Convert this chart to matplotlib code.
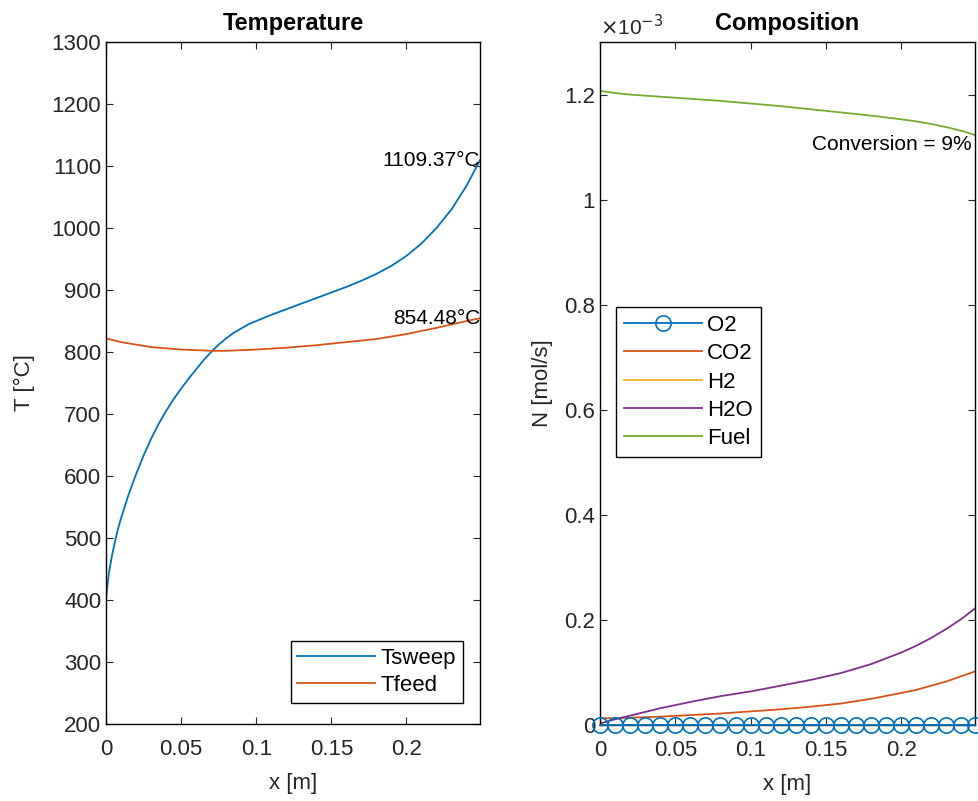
import matplotlib
matplotlib.use("Agg")
import matplotlib.pyplot as plt
from matplotlib.ticker import FuncFormatter
import numpy as np

plt.rcParams['font.family'] = ['Liberation Sans', 'DejaVu Sans']

# temperature profiles along the reactor
x_t = [0, 0.001, 0.002, 0.004, 0.006, 0.008, 0.01, 0.015, 0.02, 0.025,
       0.03, 0.035, 0.04, 0.045, 0.05, 0.055, 0.06, 0.065, 0.07, 0.075,
       0.08, 0.085, 0.09, 0.095, 0.10, 0.11, 0.12, 0.13, 0.14, 0.15,
       0.16, 0.17, 0.18, 0.19, 0.20, 0.21, 0.22, 0.23, 0.24, 0.249]
t_sweep = [400, 425, 445, 472, 495, 515, 532, 570, 603, 633,
           660, 684, 705, 724, 741, 757, 772, 787, 800, 812,
           822, 831, 838, 845, 850, 860, 869, 878, 887, 896,
           905, 915, 926, 939, 955, 975, 1000, 1030, 1068, 1109.37]
x_f = [0, 0.01, 0.02, 0.03, 0.04, 0.05, 0.06, 0.07, 0.08, 0.09, 0.10,
       0.12, 0.14, 0.16, 0.18, 0.20, 0.22, 0.24, 0.249]
t_feed = [822, 816, 812, 808, 806, 804, 803, 802, 802, 803, 804,
          807, 811, 816, 821, 829, 839, 850, 854.48]

# molar flows [mol/s], in units of 1e-3
x_c = [0, 0.01, 0.02, 0.04, 0.06, 0.08, 0.10, 0.12, 0.14, 0.16, 0.18,
       0.20, 0.21, 0.22, 0.23, 0.24, 0.249]
n_fuel = [1.207, 1.203, 1.200, 1.196, 1.192, 1.188, 1.183, 1.178, 1.172,
          1.166, 1.160, 1.153, 1.149, 1.144, 1.138, 1.131, 1.123]
n_h2o = [0.003, 0.011, 0.018, 0.032, 0.044, 0.055, 0.064, 0.075, 0.086,
         0.099, 0.116, 0.138, 0.151, 0.166, 0.183, 0.202, 0.222]
n_co2 = [0.013, 0.013, 0.014, 0.016, 0.019, 0.022, 0.026, 0.030, 0.035,
         0.041, 0.050, 0.061, 0.067, 0.075, 0.083, 0.093, 0.102]
n_h2 = [0.0] * len(x_c)
x_o2 = [0, 0.01, 0.02, 0.03, 0.04, 0.05, 0.06, 0.07, 0.08, 0.09, 0.10,
        0.11, 0.12, 0.13, 0.14, 0.15, 0.16, 0.17, 0.18, 0.19, 0.20,
        0.21, 0.22, 0.23, 0.24, 0.249]
n_o2 = [0.0] * len(x_o2)

L = 0.249
fs = 16
tick_col = '#262626'
blue, orange, yellow, purple, green = '#0072BD', '#D95319', '#EDB120', '#7E2F8E', '#77AC30'

fig = plt.figure(figsize=(9.79, 8.01), dpi=100)
ax1 = fig.add_axes([0.1083, 0.0961, 0.382, 0.8514])
ax2 = fig.add_axes([0.6129, 0.0948, 0.383, 0.8527])


def style(ax):
    ax.tick_params(direction='in', top=True, right=True, length=5,
                   labelsize=fs, colors=tick_col, width=0.8)
    ax.tick_params(axis='x', pad=11)
    for s in ax.spines.values():
        s.set_color('black')
        s.set_linewidth(1.0)
    ax.set_xlim(0, L)
    ax.set_xticks([0, 0.05, 0.1, 0.15, 0.2])
    ax.xaxis.set_major_formatter(FuncFormatter(lambda v, p: '%g' % v))
    ax.set_xlabel('x [m]', fontsize=fs, color=tick_col, labelpad=9)


# left: temperature
ax1.plot(x_t, t_sweep, color=blue, lw=1.3, label='Tsweep')
ax1.plot(x_f, t_feed, color=orange, lw=1.3, label='Tfeed')
ax1.set_ylim(200, 1300)
ax1.set_yticks(range(200, 1301, 100))
style(ax1)
ax1.set_ylabel('T [°C]', fontsize=fs, color=tick_col, labelpad=12)
ax1.set_title('Temperature', fontsize=fs + 1, fontweight='bold', pad=9)
ax1.text(L, t_sweep[-1], '%.2f°C' % t_sweep[-1], ha='right', va='center',
         fontsize=fs - 1)
ax1.text(L, t_feed[-1], '%.2f°C' % t_feed[-1], ha='right', va='center',
         fontsize=fs - 1)
leg1 = ax1.legend(loc='lower right', bbox_to_anchor=(0.9545, 0.031),
                  borderaxespad=0, fontsize=fs, handlelength=3.5,
                  handletextpad=0.25, labelspacing=0.3, borderpad=0.3,
                  fancybox=False, edgecolor='black', framealpha=1)
leg1.get_frame().set_linewidth(1.0)

# right: composition
sc = 1e-3
ax2.plot(x_o2, np.array(n_o2) * sc, color=blue, lw=1.3, marker='o',
         ms=11, mfc='none', mew=1.2, label='O2', clip_on=False, zorder=5)
ax2.plot(x_c, np.array(n_co2) * sc, color=orange, lw=1.3, label='CO2')
ax2.plot(x_c, np.array(n_h2) * sc, color=yellow, lw=1.3, label='H2')
ax2.plot(x_c, np.array(n_h2o) * sc, color=purple, lw=1.3, label='H2O')
ax2.plot(x_c, np.array(n_fuel) * sc, color=green, lw=1.3, label='Fuel')
ax2.set_ylim(0, 1.3e-3)
ax2.set_yticks(np.array([0, 0.2, 0.4, 0.6, 0.8, 1.0, 1.2]) * sc)
style(ax2)
ax2.yaxis.set_major_formatter(FuncFormatter(lambda v, p: '%g' % round(v / sc, 3)))
ax2.set_ylabel('N [mol/s]', fontsize=fs, color=tick_col, labelpad=8)
ax2.set_title('Composition', fontsize=fs + 1, fontweight='bold', pad=9)
ax2.text(0.0, 1.004, r'$\times$10$^{-3}$', transform=ax2.transAxes,
         ha='left', va='bottom', fontsize=fs - 1, color=tick_col)
ax2.text(0.141, 1.105e-3, 'Conversion = %d%%' % 9, ha='left', va='center',
         fontsize=fs - 1)
leg2 = ax2.legend(loc='upper left', bbox_to_anchor=(0.043, 0.612),
                  borderaxespad=0, fontsize=fs, handlelength=3.5,
                  handletextpad=0.25, labelspacing=0.33, borderpad=0.35,
                  fancybox=False, edgecolor='black', framealpha=1)
leg2.get_frame().set_linewidth(1.0)

fig.savefig('out.png', dpi=100)
